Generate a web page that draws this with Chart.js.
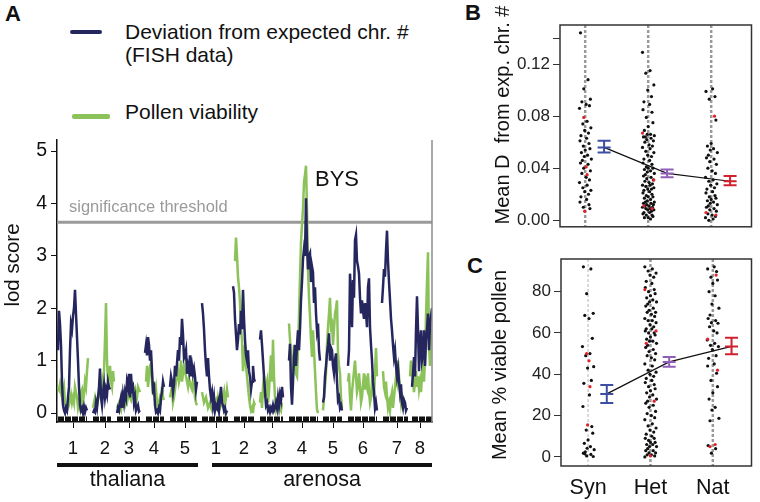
<!DOCTYPE html>
<html lang="en">
<head>
<meta charset="UTF-8">
<title>BYS lod scores and meiotic stability</title>
<style>
  body { margin: 0; background: #fff; font-family: 'Liberation Sans', Arial, sans-serif; }
  #wrap { position: relative; width: 760px; height: 502px; overflow: hidden; }
  canvas { position: absolute; }
  .lbl { position: absolute; font-weight: bold; font-size: 22px; color: #111; }
  .key { position: absolute; font-size: 21px; line-height: 23px; color: #111; white-space: nowrap; }
  .swatch { position: absolute; height: 4px; border-radius: 2px; }
</style>
</head>
<body>
<div id="wrap">
  <div class="lbl" style="left:5px; top:1px;">A</div>
  <div class="lbl" style="left:465px; top:0px;">B</div>
  <div class="lbl" style="left:467px; top:253px;">C</div>

  <div class="swatch" style="left:70px; top:30px; width:32px; background:#25265e;"></div>
  <div class="key" style="left:125px; top:20px;">Deviation from expected chr. #<br>(FISH data)</div>
  <div class="swatch" style="left:72px; top:114px; width:38px; height:5px; background:#8cc25a;"></div>
  <div class="key" style="left:125px; top:100px;">Pollen viability</div>

  <canvas id="chartA" width="440" height="502" style="left:0; top:0;"></canvas>
  <canvas id="chartB" width="320" height="240" style="left:440px; top:0;"></canvas>
  <canvas id="chartC" width="320" height="262" style="left:440px; top:240px;"></canvas>
</div>

<script src="https://cdn.jsdelivr.net/npm/chart.js"></script>
<script>
// ---- panel A: genome scan ----
const chrNames = ['1', '2', '3', '4', '5', '1', '2', '3', '4', '5', '6', '7', '8'];
const chrTick = [16, 48, 72, 97, 128, 159, 187, 215, 245, 276, 306, 340, 363];
const rugStart = [1, 36, 60, 89, 113, 145, 177, 203, 232, 266, 291, 326, 355];
const rugEnd = [30, 54, 83, 107, 140, 171, 198, 226, 261, 285, 320, 351, 375];
const species = ['thaliana', 'arenosa'];
const speciesFrom = [0, 155];
const speciesTo = [141, 375];
const lodTicks = [0, 1, 2, 3, 4, 5];
const threshold = 3.64;
const genomeMax = 375;

// deviation from expected chromosome number (FISH), one value per map unit
const fishStart = [1, 36, 60, 88, 113, 145, 176, 203, 232, 266, 291, 325, 355];
const fishLod = [
  [1.2, 1.95, 1.7, 1.3, 0.6, 0.15, 0.05, 0.0, 0.1, 0.05, 0.3, 0.5, 1.2, 1.7, 1.6, 1.85, 2.0, 2.35, 1.9, 1.45, 1.0, 0.5, 0.15, 0.05, 0.1, 0.0, 0.12, 0.02, 0.1, 0.05],
  [0.0, 0.05, 0.02, 0.2, 0.1, 0.3, 0.5, 0.85, 0.3, 0.15, 0.4, 0.55, 0.3, 0.45, 0.35, 0.6, 0.5, 0.45],
  [0.0, 0.1, 0.05, 0.2, 0.3, 0.1, 0.35, 0.2, 0.4, 0.3, 0.6, 0.5, 0.75, 0.3, 0.75, 0.45, 0.5, 0.2, 0.3, 0.05, 0.1, 0.15, 0.03, 0.05],
  [1.15, 1.3, 1.1, 1.45, 1.3, 1.0, 1.2, 0.8, 0.45, 0.5, 0.15, 0.02, 0.05, 0.0, 0.1, 0.05, 0.3, 0.4, 0.6, 0.5],
  [0.5, 0.7, 0.6, 0.4, 0.55, 0.9, 0.7, 0.95, 1.2, 1.0, 1.45, 1.3, 1.8, 1.5, 1.05, 1.1, 1.2, 0.75, 0.9, 0.8, 1.1, 0.7, 0.9, 0.75, 0.85, 0.7, 0.45, 0.6],
  [2.1, 1.9, 1.6, 1.2, 0.9, 0.7, 1.05, 0.7, 0.45, 0.3, 0.4, 0.15, 0.3, 0.05, 0.15, 0.1, 0.2, 0.05, 0.3, 0.5, 0.2, 0.15, 0.05, 0.1, 0.0, 0.05],
  [2.42, 2.3, 1.8, 1.5, 1.2, 1.4, 1.7, 1.5, 1.95, 1.6, 2.35, 1.8, 1.4, 1.1, 1.0, 1.2, 0.8, 0.7, 0.45, 0.6, 0.9, 0.65, 0.6],
  [1.4, 1.58, 1.3, 1.0, 0.7, 0.4, 0.15, 0.2, 0.05, 0.1, 0.02, 0.1, 0.05, 0.15, 0.05, 0.1, 0.2, 0.1, 0.3, 0.15, 0.35, 0.25, 0.5, 0.3],
  [1.0, 1.32, 0.5, 0.16, 0.6, 1.07, 1.3, 0.9, 1.3, 1.58, 1.2, 1.6, 2.16, 2.5, 2.94, 3.13, 3.0, 4.1, 3.2, 2.74, 3.0, 3.05, 2.5, 2.8, 2.69, 2.1, 2.4, 1.9, 1.58, 1.71, 1.2, 1.0],
  [0.2, 0.3, 0.7, 0.9, 1.14, 1.3, 1.52, 1.0, 1.25, 1.2, 0.9, 0.76, 1.0, 1.14, 0.6, 0.25, 0.3, 0.1, 0.15, 0.05],
  [0.9, 1.2, 2.66, 2.2, 1.64, 2.54, 2.2, 3.3, 3.4, 2.9, 2.8, 2.66, 2.2, 1.9, 2.15, 1.95, 1.8, 2.1, 1.9, 1.64, 2.4, 2.57, 1.64, 1.3, 1.0, 0.6, 0.4, 0.1, 0.2, 0.05],
  [2.1, 2.4, 2.75, 2.6, 3.1, 3.48, 2.9, 2.5, 2.16, 1.8, 1.58, 1.3, 1.07, 1.2, 0.9, 0.7, 0.85, 0.6, 0.4, 0.55, 0.2, 0.1, 0.25, 0.2, 0.05, 0.1],
  [0.5, 0.74, 1.07, 0.7, 1.58, 2.23, 1.6, 0.8, 1.34, 1.58, 1.0, 1.1, 1.58, 0.9, 1.4, 1.6, 1.9, 1.2, 1.7, 1.85, 2.0]
];

// pollen viability
const pollenStart = [1, 36, 60, 89, 113, 145, 178, 203, 232, 266, 291, 326, 353];
const pollenLod = [
  [0.5, 0.45, 0.55, 0.4, 0.3, 0.4, 0.5, 0.2, 0.1, 0.05, 0.1, 0.15, 0.25, 0.35, 0.2, 0.3, 0.2, 0.5, 0.4, 0.3, 0.1, 0.2, 0.1, 0.4, 0.45, 0.2, 0.35, 0.6, 0.5, 0.8, 1.05],
  [0.1, 0.2, 0.3, 0.2, 0.15, 0.25, 0.35, 0.5, 0.4, 0.55, 0.7, 0.8, 1.4, 2.1, 1.0, 0.6, 0.75, 0.9, 0.6, 0.5, 0.8, 0.6],
  [0.1, 0.15, 0.2, 0.1, 0.05, 0.2, 0.3, 0.2, 0.15, 0.25, 0.2, 0.3, 0.4, 0.3, 0.25, 0.35, 0.5, 0.4, 0.45, 0.2, 0.3, 0.5, 0.45, 0.4],
  [0.6, 0.9, 0.5, 0.7, 0.9, 0.95, 0.6, 0.35, 0.6, 0.3, 0.45, 0.2, 0.1, 0.2, 0.3, 0.25, 0.5, 0.3, 0.25],
  [0.3, 0.4, 0.5, 0.2, 0.3, 0.45, 0.6, 0.7, 0.8, 0.6, 0.7, 1.0, 0.6, 0.75, 0.9, 0.8, 0.7, 0.6, 0.5, 0.65, 0.6, 0.5, 0.45, 0.6, 0.55, 0.3, 0.2, 0.15],
  [0.4, 0.3, 0.2, 0.25, 0.3, 0.2, 0.1, 0.15, 0.2, 0.1, 0.05, 0.1, 0.15, 0.2, 0.25, 0.15, 0.3, 0.2, 0.1, 0.15, 0.2, 0.3, 0.4, 0.15, 0.3, 0.45, 0.3],
  [2.9, 3.35, 3.0, 2.6, 2.4, 2.1, 1.6, 1.4, 0.8, 1.1, 1.3, 0.9, 0.7, 0.5, 0.3, 0.15, 0.05, 0.1, 0.0, 0.2, 0.15],
  [0.2, 0.4, 0.1, 0.5, 0.7, 0.3, 0.5, 0.6, 0.2, 0.4, 0.8, 1.1, 0.6, 1.4, 0.7, 0.3, 0.1, 0.2, 0.05, 0.15, 0.1, 0.05, 0.2],
  [1.71, 1.4, 1.07, 0.69, 0.9, 1.3, 1.0, 0.75, 0.7, 1.2, 1.85, 2.6, 3.26, 3.6, 3.9, 4.4, 4.55, 4.72, 3.9, 2.74, 2.2, 1.85, 1.4, 1.07, 1.58, 1.2, 0.8, 0.4, 0.07, 0.0],
  [0.05, 0.3, 0.5, 0.76, 1.3, 1.64, 1.9, 2.2, 1.64, 1.7, 1.3, 1.6, 1.9, 2.0, 2.15, 1.14, 0.9, 0.76, 0.3, 0.1],
  [0.6, 0.76, 0.3, 0.05, 0.4, 0.6, 0.8, 1.0, 0.7, 0.4, 0.5, 0.76, 0.5, 0.2, 0.3, 0.55, 0.76, 0.45, 0.6, 0.5, 0.76, 0.4, 0.2, 0.3, 0.6, 0.5, 0.3, 0.8, 1.24, 0.7],
  [0.8, 0.5, 0.4, 0.6, 0.3, 0.1, 0.2, 0.05, 0.3, 0.4, 0.1, 0.3, 0.5, 0.7, 0.6, 1.0, 0.7, 0.4, 0.2, 0.35, 0.3, 0.1],
  [0.7, 1.0, 0.85, 0.6, 0.4, 0.6, 0.8, 0.5, 0.7, 0.45, 0.6, 0.4, 0.7, 1.07, 0.6, 1.0, 1.85, 2.5, 3.07, 1.3, 0.9, 1.6, 1.9]
];

// ---- panels B and C: per-plant values by group ----
const groups = ['Syn', 'Het', 'Nat'];

const devBlack = [
  [0.144, 0.108, 0.101, 0.093, 0.091, 0.089, 0.088, 0.086, 0.076, 0.074, 0.071, 0.069, 0.067, 0.065, 0.063, 0.061, 0.059, 0.057, 0.055, 0.054, 0.052, 0.050, 0.049, 0.047, 0.046, 0.044, 0.043, 0.040, 0.038, 0.036, 0.033, 0.031, 0.029, 0.027, 0.025, 0.023, 0.022, 0.020, 0.018, 0.016, 0.014, 0.012, 0.010, 0.009],
  [0.129, 0.115, 0.113, 0.104, 0.100, 0.095, 0.091, 0.089, 0.085, 0.083, 0.079, 0.075, 0.072, 0.069, 0.066, 0.066, 0.065, 0.064, 0.064, 0.063, 0.062, 0.061, 0.060, 0.058, 0.057, 0.056, 0.055, 0.053, 0.052, 0.050, 0.049, 0.047, 0.046, 0.044, 0.043, 0.041, 0.040, 0.040, 0.039, 0.038, 0.037, 0.036, 0.035, 0.034, 0.033, 0.032, 0.031, 0.030, 0.029, 0.028, 0.027, 0.027, 0.026, 0.025, 0.024, 0.024, 0.023, 0.022, 0.021, 0.020, 0.019, 0.018, 0.018, 0.017, 0.016, 0.015, 0.014, 0.014, 0.013, 0.013, 0.012, 0.012, 0.011, 0.011, 0.010, 0.010, 0.009, 0.009, 0.008, 0.008, 0.007, 0.006, 0.006, 0.005, 0.004, 0.004, 0.003, 0.002, 0.002, 0.001],
  [0.101, 0.099, 0.095, 0.093, 0.077, 0.059, 0.057, 0.055, 0.054, 0.052, 0.050, 0.048, 0.047, 0.045, 0.043, 0.040, 0.038, 0.036, 0.033, 0.031, 0.030, 0.028, 0.027, 0.025, 0.024, 0.022, 0.021, 0.019, 0.018, 0.017, 0.016, 0.015, 0.014, 0.013, 0.012, 0.011, 0.010, 0.009, 0.008, 0.007, 0.005, 0.004, 0.003, 0.002, 0.001, 0.000]
];
const devRed = [
  [0.079, 0.041, 0.035, 0.007],
  [0.067, 0.031, 0.011, 0.009],
  [0.080, 0.006, 0.004]
];
const devMean = [0.056, 0.036, 0.030];
const devLo = [0.052, 0.033, 0.027];
const devHi = [0.061, 0.039, 0.034];
const devTicks = [0, 0.04, 0.08, 0.12, 0.14];

const polBlack = [
  [92, 91, 79, 69.5, 68.5, 67, 57.4, 53.4, 50, 49, 43.7, 43, 37, 35.6, 30, 24.4, 14.7, 13, 11.5, 8.2, 6.6, 5, 4.2, 3.5, 2.5, 1.8, 1.2, 0.5, 0.2, 1.5],
  [92, 91, 90, 89, 88, 87, 85, 84, 82, 81, 80, 79, 78, 77, 76, 75, 75, 74, 73, 72, 71, 70, 70, 69, 68, 67, 66, 66, 65, 64, 63, 62, 62, 61, 60, 60, 59, 58, 57, 56, 56, 55, 54, 53, 52, 51, 50, 49, 48, 47, 45, 44, 42, 41, 40, 39, 38, 37, 36, 35, 34, 33, 32, 31, 30, 29, 28, 27, 26, 25, 24, 22, 21, 20, 19, 18, 16, 15, 14, 13, 12, 11, 10, 9, 9, 8, 7, 7, 6, 6, 5, 5, 4, 3, 3, 2, 2, 1, 1, 0.5, 0],
  [92, 91, 89.7, 87, 85.6, 84, 80, 78, 74, 72, 68.7, 67, 66, 65, 64.7, 63, 61, 60, 56.6, 55, 54, 53.4, 52, 49, 47.7, 45, 44, 40.5, 37, 34, 31, 28, 24, 22.7, 18.7, 17.5, 5.5, 4, 1.8]
];
const polRed = [
  [50, 46.5, 34, 15.5],
  [81, 61, 55, 27, 0.5],
  [88, 57, 42, 6, 5]
];
const polMean = [30.5, 46, 53.5];
const polLo = [26.1, 43.6, 49.7];
const polHi = [34.8, 48.4, 57.7];
const polTicks = [0, 20, 40, 60, 80];

// ---- styling ----
const FONT = "'Liberation Sans', Arial, sans-serif";
const NAVY = '#25265e';
const GREEN = '#8cc25a';
const groupColors = ['#3e4fa3', '#9060b8', '#d1202e'];
const JIT = [-0.10, 0.06, -0.03, 0.11, -0.07, 0.02, 0.09, -0.12, 0.04, -0.05, 0.12, -0.01, 0.07, -0.09, 0.03, -0.11, 0.08, -0.04, 0.10, 0.0, -0.08, 0.05, -0.02, 0.13, -0.06];
const JIT_SCALE = 0.75;
const MEAN_SHIFT = 0.3;

Chart.defaults.font.family = FONT;
Chart.defaults.color = '#111';

function trace(starts, lods, color, order) {
  return lods.map((arr, c) => ({
    data: arr.map((v, i) => ({ x: starts[c] + i, y: v })),
    showLine: true, borderColor: color, borderWidth: 2.5, pointRadius: 0, order: order
  }));
}

const rugSets = rugStart.map((s, i) => ({
  data: [{ x: s, y: -0.115 }, { x: rugEnd[i], y: -0.115 }],
  showLine: true, borderColor: '#111', borderWidth: 5, borderDash: [6, 1],
  borderCapStyle: 'butt', pointRadius: 0, order: 0
}));

const threshSet = {
  data: [{ x: 0, y: threshold }, { x: genomeMax, y: threshold }],
  showLine: true, borderColor: '#9a9a9a', borderWidth: 3, pointRadius: 0, order: 9
};

const panelA = {
  id: 'panelA',
  afterDraw(chart) {
    const { ctx, chartArea: a, scales: { x, y } } = chart;
    ctx.save();
    ctx.strokeStyle = '#8c8c8c';
    ctx.lineWidth = 1.5;
    ctx.beginPath();
    ctx.moveTo(a.right, a.top);
    ctx.lineTo(a.right, a.bottom);
    ctx.stroke();

    ctx.textBaseline = 'middle';
    ctx.textAlign = 'left';
    ctx.fillStyle = '#9a9a9a';
    ctx.font = '16.5px ' + FONT;
    ctx.fillText('significance threshold', x.getPixelForValue(12), y.getPixelForValue(3.93));
    ctx.fillStyle = '#111';
    ctx.font = '22px ' + FONT;
    ctx.fillText('BYS', x.getPixelForValue(258), y.getPixelForValue(4.45));

    ctx.font = '21.5px ' + FONT;
    ctx.textAlign = 'center';
    species.forEach((s, i) => {
      const x0 = x.getPixelForValue(speciesFrom[i]);
      const x1 = x.getPixelForValue(speciesTo[i]);
      ctx.fillRect(x0, a.bottom + 41, x1 - x0, 4);
      ctx.fillText(s, (x0 + x1) / 2, a.bottom + 58);
    });

    ctx.translate(13, (a.top + a.bottom) / 2 - 16);
    ctx.rotate(-Math.PI / 2);
    ctx.font = '20.5px ' + FONT;
    ctx.fillText('lod score', 0, 0);
    ctx.restore();
  }
};

new Chart(document.getElementById('chartA'), {
  type: 'scatter',
  data: {
    datasets: [
      ...trace(fishStart, fishLod, NAVY, 1),
      ...trace(pollenStart, pollenLod, GREEN, 2),
      threshSet,
      ...rugSets
    ]
  },
  options: {
    responsive: false,
    animation: false,
    layout: { padding: { top: 140, right: 8, left: 0, bottom: 0 } },
    plugins: { legend: { display: false }, tooltip: { enabled: false } },
    scales: {
      x: {
        type: 'linear', min: 0, max: genomeMax,
        afterBuildTicks: s => { s.ticks = chrTick.map(v => ({ value: v })); },
        afterFit: s => { s.height = 80; },
        ticks: { callback: (v, i) => chrNames[i], font: { size: 18.5 }, padding: 10, maxRotation: 0, autoSkip: false, color: '#111' },
        grid: { drawOnChartArea: false, tickLength: 6, color: '#111' },
        border: { color: '#111', width: 1.5 }
      },
      y: {
        min: -0.17, max: 5.21,
        afterBuildTicks: s => { s.ticks = lodTicks.map(v => ({ value: v })); },
        afterFit: s => { s.width = 57; },
        ticks: { font: { size: 19.5 }, padding: 4, color: '#111' },
        grid: { drawOnChartArea: false, tickLength: 6, color: '#111' },
        border: { color: '#111', width: 1.5 }
      }
    }
  },
  plugins: [panelA]
});

// ---- B and C ----
function groupSets(black, red, mean, lo, hi) {
  const sets = [];
  black.forEach((vals, g) => {
    sets.push({
      data: vals.map((v, i) => ({ x: g + 1 + JIT_SCALE * JIT[(i + g * 7) % JIT.length], y: v })),
      pointRadius: 1.6, backgroundColor: '#111', borderWidth: 0, order: 5
    });
  });
  red.forEach((vals, g) => {
    sets.push({
      data: vals.map((v, i) => ({ x: g + 1 + JIT_SCALE * JIT[(i * 3 + g * 5 + 2) % JIT.length], y: v })),
      pointRadius: 1.6, backgroundColor: '#e0202a', borderWidth: 0, order: 4
    });
  });
  sets.push({
    data: mean.map((m, g) => ({ x: g + 1 + MEAN_SHIFT, y: m })),
    showLine: true, borderColor: '#111', borderWidth: 1.2, pointRadius: 0, order: 2
  });
  mean.forEach((m, g) => {
    const c = groupColors[g];
    const cx = g + 1 + MEAN_SHIFT;
    sets.push({
      data: [{ x: cx, y: lo[g] }, { x: cx, y: hi[g] }],
      showLine: true, borderColor: c, borderWidth: 2,
      pointStyle: 'line', pointRadius: 6.5, pointBorderColor: c, pointBorderWidth: 2, order: 1
    });
    sets.push({
      data: [{ x: cx, y: m }],
      pointStyle: 'line', pointRadius: 6.5, pointBorderColor: c, pointBorderWidth: 2, order: 1
    });
  });
  return sets;
}

function sidePlugin(title, titleX, titleY, lineWidths, lineColors) {
  return {
    id: 'side',
    beforeDatasetsDraw(chart) {
      const { ctx, chartArea: a, scales: { x } } = chart;
      ctx.save();
      groups.forEach((g, i) => {
        const px = x.getPixelForValue(i + 1);
        ctx.strokeStyle = lineColors[i];
        ctx.lineWidth = lineWidths[i];
        ctx.setLineDash([3, 2]);
        ctx.beginPath();
        ctx.moveTo(px, a.top);
        ctx.lineTo(px, a.bottom);
        ctx.stroke();
      });
      ctx.restore();
    },
    afterDraw(chart) {
      const { ctx, chartArea: a } = chart;
      ctx.save();
      ctx.strokeStyle = '#333';
      ctx.lineWidth = 1.5;
      ctx.strokeRect(a.left, a.top, a.right - a.left, a.bottom - a.top);
      ctx.translate(titleX, titleY);
      ctx.rotate(-Math.PI / 2);
      ctx.fillStyle = '#111';
      ctx.font = '20px ' + FONT;
      ctx.textAlign = 'center';
      ctx.textBaseline = 'middle';
      ctx.fillText(title, 0, 0);
      ctx.restore();
    }
  };
}

new Chart(document.getElementById('chartB'), {
  type: 'scatter',
  data: { datasets: groupSets(devBlack, devRed, devMean, devLo, devHi) },
  options: {
    responsive: false,
    animation: false,
    layout: { padding: { top: 25, right: 2, left: 0, bottom: 8 } },
    plugins: { legend: { display: false }, tooltip: { enabled: false } },
    scales: {
      x: { type: 'linear', min: 0.6, max: 3.64, display: false },
      y: {
        min: -0.005, max: 0.15,
        afterBuildTicks: s => { s.ticks = devTicks.map(v => ({ value: v })); },
        afterFit: s => { s.width = 120; },
        ticks: { callback: v => (v === 0.14 ? '' : v.toFixed(2)), font: { size: 17 }, padding: 3, color: '#222' },
        grid: { drawOnChartArea: false, tickLength: 7, color: '#333' },
        border: { display: false }
      }
    }
  },
  plugins: [sidePlugin('Mean D  from exp. chr. #', 63, 115, [2.5, 2.5, 2.5], ['#9a9a9a', '#9a9a9a', '#9a9a9a'])]
});

new Chart(document.getElementById('chartC'), {
  type: 'scatter',
  data: { datasets: groupSets(polBlack, polRed, polMean, polLo, polHi) },
  options: {
    responsive: false,
    animation: false,
    layout: { padding: { top: 19, right: 2, left: 0, bottom: 0 } },
    plugins: { legend: { display: false }, tooltip: { enabled: false } },
    scales: {
      x: {
        type: 'linear', min: 0.566, max: 3.62,
        afterBuildTicks: s => { s.ticks = [1, 2, 3].map(v => ({ value: v })); },
        afterFit: s => { s.height = 36; },
        ticks: { callback: (v, i) => groups[i], font: { size: 21.5 }, padding: 9, color: '#111' },
        grid: { drawOnChartArea: false, drawTicks: false },
        border: { display: false }
      },
      y: {
        min: -4.4, max: 95.8,
        afterBuildTicks: s => { s.ticks = polTicks.map(v => ({ value: v })); },
        afterFit: s => { s.width = 121; },
        ticks: { font: { size: 17 }, padding: 3, color: '#222' },
        grid: { drawOnChartArea: false, tickLength: 7, color: '#333' },
        border: { display: false }
      }
    }
  },
  plugins: [sidePlugin('Mean % viable pollen', 60, 125, [1, 2.5, 2.5], ['#b5b5b5', '#9a9a9a', '#9a9a9a'])]
});
</script>
</body>
</html>
